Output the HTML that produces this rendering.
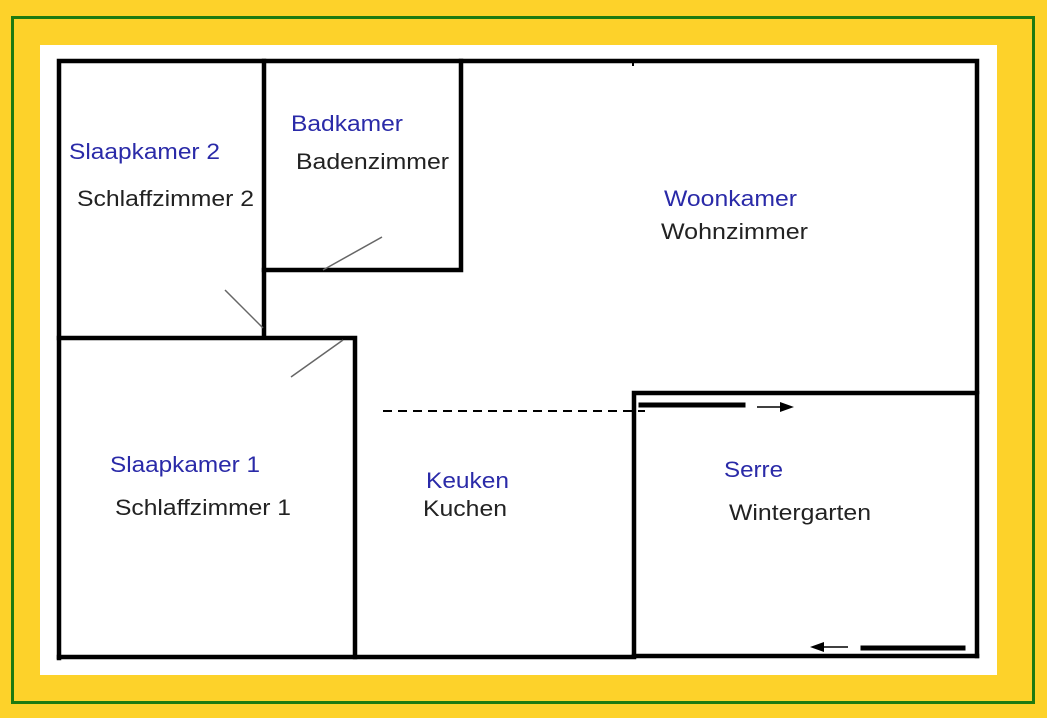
<!DOCTYPE html>
<html><head><meta charset="utf-8"><style>
html,body{margin:0;padding:0;background:#fdd22a;}
svg{display:block}
text{font-family:"Liberation Sans",Arial,sans-serif;font-size:22px;}
.b{fill:#2a2aa8}.k{fill:#222}
</style></head><body>
<svg width="1047" height="718" viewBox="0 0 1047 718">
<rect width="1047" height="718" fill="#fdd22a"/>
<rect x="12.5" y="17.5" width="1021" height="685" fill="none" stroke="#1e7a10" stroke-width="3"/>
<rect x="40" y="45" width="957" height="630" fill="#fff"/>
<g stroke="#000" stroke-width="4.5" fill="none" stroke-linecap="square">
<polyline points="59,658 59,61 977,61 977,392"/>
<line x1="59" y1="657" x2="634" y2="657"/>
<line x1="634" y1="656" x2="977" y2="656"/>
<polyline points="634,656 634,393 977,393 977,656"/>
<polyline points="264,61 264,336"/>
<polyline points="264,270 461,270 461,61"/>
<polyline points="59,338 355,338 355,657"/>
<line x1="641" y1="405" x2="743" y2="405" stroke-width="5"/>
<line x1="863" y1="648" x2="963" y2="648" stroke-width="5"/>
</g>
<line x1="633" y1="59" x2="633" y2="66" stroke="#000" stroke-width="2"/>
<g stroke="#666" stroke-width="1.5">
<line x1="323" y1="270" x2="382" y2="237"/>
<line x1="225" y1="290" x2="263" y2="328"/>
<line x1="291" y1="377" x2="343" y2="340"/>
</g>
<line x1="383" y1="411" x2="645" y2="411" stroke="#000" stroke-width="2" stroke-dasharray="9,6"/>
<line x1="757" y1="407" x2="782" y2="407" stroke="#000" stroke-width="1.5"/>
<polygon points="780,402 794,407 780,412" fill="#000"/>
<line x1="822" y1="647" x2="848" y2="647" stroke="#000" stroke-width="1.5"/>
<polygon points="824,642 810,647 824,652" fill="#000"/>
<g lengthAdjust="spacingAndGlyphs">
<text x="69" y="159" class="b" textLength="151" lengthAdjust="spacingAndGlyphs">Slaapkamer 2</text>
<text x="77" y="206" class="k" textLength="177" lengthAdjust="spacingAndGlyphs">Schlaffzimmer 2</text>
<text x="291" y="131" class="b" textLength="112" lengthAdjust="spacingAndGlyphs">Badkamer</text>
<text x="296" y="169" class="k" textLength="153" lengthAdjust="spacingAndGlyphs">Badenzimmer</text>
<text x="664" y="206" class="b" textLength="133" lengthAdjust="spacingAndGlyphs">Woonkamer</text>
<text x="661" y="239" class="k" textLength="147" lengthAdjust="spacingAndGlyphs">Wohnzimmer</text>
<text x="110" y="472" class="b" textLength="150" lengthAdjust="spacingAndGlyphs">Slaapkamer 1</text>
<text x="115" y="515" class="k" textLength="176" lengthAdjust="spacingAndGlyphs">Schlaffzimmer 1</text>
<text x="426" y="488" class="b" textLength="83" lengthAdjust="spacingAndGlyphs">Keuken</text>
<text x="423" y="516" class="k" textLength="84" lengthAdjust="spacingAndGlyphs">Kuchen</text>
<text x="724" y="477" class="b" textLength="59" lengthAdjust="spacingAndGlyphs">Serre</text>
<text x="729" y="520" class="k" textLength="142" lengthAdjust="spacingAndGlyphs">Wintergarten</text>
</g>
</svg>
</body></html>
